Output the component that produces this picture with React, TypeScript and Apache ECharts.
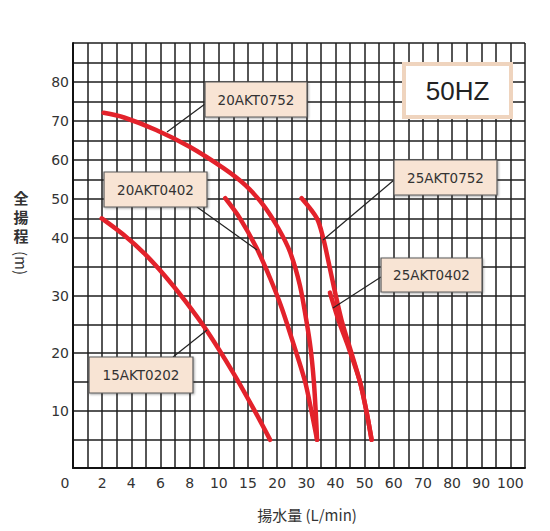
import React, { useEffect, useRef } from 'react';
import * as echarts from 'echarts';

// Tick labels (x axis uses a stepped, non-linear scale; label i sits on grid line 2*i)
const xTickLabels = ['0', '2', '4', '6', '8', '10', '15', '20', '30', '40', '50', '60', '70', '80', '90', '100'];
const yTickLabels = [10, 20, 30, 40, 50, 60, 70, 80];
const yGridValues = [0, 5, 10, 15, 20, 25, 30, 35, 40, 45, 50, 55, 60, 65, 70, 75, 80, 85, 90];

// Pump curves: flow (L/min) and total head (m)
const flow20AKT0752 = [2.1, 3.5, 5.7, 8.0, 10.8, 14.5, 17.6, 20.4, 24.4, 27.8, 30.0, 31.45, 32.6, 33.3, 33.7];
const head20AKT0752 = [72.1, 70.9, 67.7, 63.4, 57.9, 53.6, 48.5, 42.5, 37.6, 31.8, 25.7, 20.9, 15.0, 9.2, 4.9];

const flow20AKT0402 = [11.1, 13.6, 16.5, 18.8, 21.6, 26.1, 29.6, 31.8, 33.7];
const head20AKT0402 = [50.2, 45.1, 38.2, 33.0, 27.8, 20.8, 15.0, 9.8, 4.9];

const flow25AKT0752 = [28.4, 33.6, 35.8, 37.6, 39.8, 42.1, 45.0, 48.4, 50.65, 52.4];
const head25AKT0752 = [50.2, 45.1, 40.0, 35.9, 30.7, 25.7, 20.8, 15.0, 9.8, 4.9];

const flow25AKT0402 = [38.1, 41.05, 44.6, 48.4, 50.65, 52.4];
const head25AKT0402 = [30.5, 25.7, 20.8, 15.0, 9.8, 4.9];

const flow15AKT0202 = [1.97, 3.45, 4.94, 6.31, 7.68, 9.17, 12.5, 15.9, 18.8];
const head15AKT0202 = [45.05, 40.9, 37.2, 33.4, 29.1, 23.9, 16.5, 10.4, 4.9];

const seriesNames = ['20AKT0752', '20AKT0402', '25AKT0752', '25AKT0402', '15AKT0202'];
const seriesFlows = [flow20AKT0752, flow20AKT0402, flow25AKT0752, flow25AKT0402, flow15AKT0202];
const seriesHeads = [head20AKT0752, head20AKT0402, head25AKT0752, head25AKT0402, head15AKT0202];

// Axis transforms matching the chart paper's stepped scales
function tx(q: number): number {
  if (q <= 10) return q;
  if (q <= 20) return 10 + (q - 10) * 0.4;
  return 14 + (q - 20) * 0.2;
}
function ty(h: number): number {
  return h <= 40 ? h * 5.75 : 230 + (h - 40) * 3.9;
}

const FONT = '"DejaVu Sans", "Noto Sans", sans-serif';
const CJK = '"Noto Sans CJK JP", "Noto Sans", sans-serif';
const RED = '#e3222b';
const GRID = '#1e1e1e';

function labelBox(text: string, x: number, y: number, w: number, h: number, lx1: number, ly1: number, lx2: number, ly2: number) {
  return [
    {
      type: 'line', z: 100,
      shape: { x1: lx1, y1: ly1, x2: lx2, y2: ly2 },
      style: { stroke: '#222', lineWidth: 1.2 },
    },
    {
      type: 'rect', z: 101,
      shape: { x, y, width: w, height: h },
      style: {
        fill: '#f8e4d4', stroke: '#5a5a5a', lineWidth: 1.2,
        shadowBlur: 2, shadowColor: 'rgba(0,0,0,0.35)', shadowOffsetX: 1, shadowOffsetY: 1,
      },
    },
    {
      type: 'text', z: 102,
      x: x + w / 2, y: y + h / 2,
      style: { text, fill: '#333', font: `13.5px ${FONT}`, align: 'center', verticalAlign: 'middle' },
    },
  ];
}

export default function App() {
  const ref = useRef<HTMLDivElement>(null);
  useEffect(() => {
    if (!ref.current) return;
    const chart = echarts.init(ref.current, null, { renderer: 'svg' });
    const series = seriesNames.map((name, i) => ({
      name,
      type: 'line',
      smooth: 0.3,
      showSymbol: false,
      symbol: 'none',
      lineStyle: { color: RED, width: 4.5, cap: 'round', join: 'round' },
      data: seriesFlows[i].map((q, j) => [tx(q), ty(seriesHeads[i][j])]),
      z: 5,
    }));

    const graphic: any[] = [
      // 50HZ box
      {
        type: 'rect', z: 100,
        shape: { x: 404, y: 64, width: 107, height: 53 },
        style: { fill: '#ffffff', stroke: '#efd4be', lineWidth: 4 },
      },
      {
        type: 'text', z: 101, x: 457.5, y: 91,
        style: { text: '50HZ', fill: '#222', font: `26px "Liberation Sans", Arial, sans-serif`, align: 'center', verticalAlign: 'middle' },
      },
      ...labelBox('20AKT0752', 205, 82, 102, 35, 205, 104, 167, 132),
      ...labelBox('20AKT0402', 104, 172, 103, 35, 197, 207, 257, 250),
      ...labelBox('25AKT0752', 394, 160, 103, 35, 394, 180, 323, 240),
      ...labelBox('25AKT0402', 381, 258, 101, 34, 381, 277, 333, 308),
      ...labelBox('15AKT0202', 89, 357, 104, 36, 173, 357, 207, 330),
      // Y axis name, vertical Japanese writing
      {
        type: 'text', z: 100, x: 21, y: 188,
        style: { text: '全\n揚\n程', fill: '#333', font: `bold 15px ${CJK}`, lineHeight: 19, align: 'center', verticalAlign: 'top' },
      },
      {
        type: 'text', z: 100, x: 21, y: 263, rotation: -Math.PI / 2,
        style: { text: '(m)', fill: '#333', font: `15px ${CJK}`, align: 'center', verticalAlign: 'middle' },
      },
      // X axis name
      {
        type: 'text', z: 100, x: 307, y: 514,
        style: { text: '揚水量 (L/min)', fill: '#333', font: `15px ${CJK}`, align: 'center', verticalAlign: 'middle' },
      },
    ];

    chart.setOption({
      animation: false,
      backgroundColor: '#ffffff',
      grid: { left: 73, top: 43, width: 452, height: 425, containLabel: false },
      xAxis: {
        type: 'value',
        min: 0,
        max: 31,
        interval: 1,
        axisLine: { show: true, lineStyle: { color: '#111', width: 2 } },
        axisTick: { show: false },
        splitLine: { show: true, lineStyle: { color: GRID, width: 1.5 } },
        axisLabel: {
          show: true,
          interval: 0,
          margin: 8,
          color: '#333',
          fontSize: 14,
          fontFamily: FONT,
          formatter: (v: number) => {
            const k = Math.round(v);
            if (k % 2 !== 0) return '';
            const i = k / 2;
            if (i >= xTickLabels.length) return '';
            if (i === 0) return '{z|' + xTickLabels[0] + '}';
            return xTickLabels[i];
          },
          rich: { z: { padding: [0, 16, 0, 0], fontSize: 14, color: '#333', fontFamily: FONT } },
        },
      },
      yAxis: {
        type: 'value',
        min: 0,
        max: ty(90),
        axisLine: { show: true, lineStyle: { color: '#111', width: 2 } },
        axisTick: { show: false, customValues: yGridValues.map(ty) },
        splitLine: { show: true, lineStyle: { color: GRID, width: 1.5 } },
        axisLabel: {
          show: true,
          margin: 4,
          color: '#333',
          fontSize: 14,
          fontFamily: FONT,
          customValues: yTickLabels.map(ty),
          formatter: (v: number) => {
            const hit = yTickLabels.find((l) => Math.abs(ty(l) - v) < 0.01);
            return hit === undefined ? '' : String(hit);
          },
        },
      },
      series,
      graphic,
    });
    return () => chart.dispose();
  }, []);
  return (
    <div
      ref={ref}
      style={{ position: 'fixed', left: 0, top: 0, width: 550, height: 531, background: '#fff' }}
    />
  );
}
